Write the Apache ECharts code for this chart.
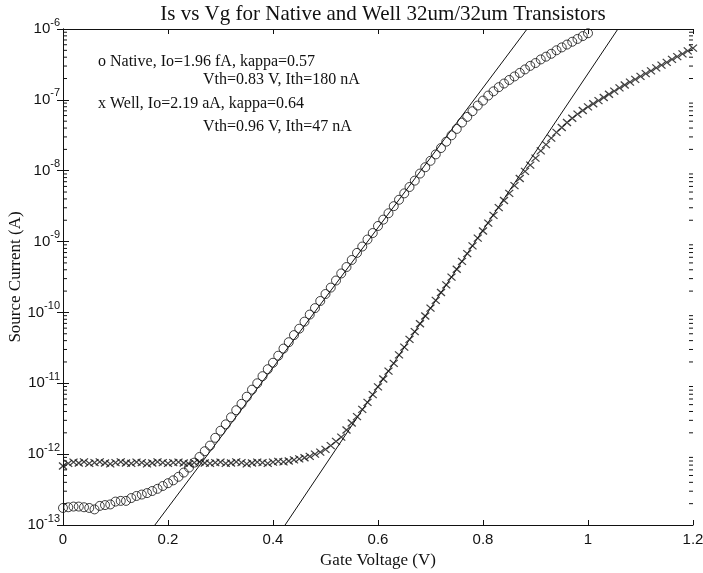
<!DOCTYPE html>
<html>
<head>
<meta charset="utf-8">
<title>Is vs Vg</title>
<script src="https://cdn.jsdelivr.net/npm/echarts@6/dist/echarts.min.js"></script>
<style>
  html, body { margin: 0; padding: 0; background: #ffffff; }
  #chart { width: 703px; height: 573px; }
</style>
</head>
<body>
<div id="chart"></div>
<script>
// gate voltage sweep (V)
var gateV = [
  0, 0.01, 0.02, 0.03, 0.04, 0.05, 0.06, 0.07, 0.08, 0.09,
  0.10, 0.11, 0.12, 0.13, 0.14, 0.15, 0.16, 0.17, 0.18, 0.19,
  0.20, 0.21, 0.22, 0.23, 0.24, 0.25, 0.26, 0.27, 0.28, 0.29,
  0.30, 0.31, 0.32, 0.33, 0.34, 0.35, 0.36, 0.37, 0.38, 0.39,
  0.40, 0.41, 0.42, 0.43, 0.44, 0.45, 0.46, 0.47, 0.48, 0.49,
  0.50, 0.51, 0.52, 0.53, 0.54, 0.55, 0.56, 0.57, 0.58, 0.59,
  0.60, 0.61, 0.62, 0.63, 0.64, 0.65, 0.66, 0.67, 0.68, 0.69,
  0.70, 0.71, 0.72, 0.73, 0.74, 0.75, 0.76, 0.77, 0.78, 0.79,
  0.80, 0.81, 0.82, 0.83, 0.84, 0.85, 0.86, 0.87, 0.88, 0.89,
  0.90, 0.91, 0.92, 0.93, 0.94, 0.95, 0.96, 0.97, 0.98, 0.99,
  1.00, 1.01, 1.02, 1.03, 1.04, 1.05, 1.06, 1.07, 1.08, 1.09,
  1.10, 1.11, 1.12, 1.13, 1.14, 1.15, 1.16, 1.17, 1.18, 1.19,
  1.20
];

// native transistor source current (A), 0 .. 1.0 V
var nativeI = [
  1.74e-13, 1.78e-13, 1.82e-13, 1.82e-13, 1.78e-13, 1.74e-13, 1.66e-13, 1.86e-13, 1.91e-13, 1.95e-13,
  2.14e-13, 2.19e-13, 2.19e-13, 2.40e-13, 2.57e-13, 2.69e-13, 2.82e-13, 3.02e-13, 3.24e-13, 3.55e-13,
  3.89e-13, 4.27e-13, 4.79e-13, 5.50e-13, 6.46e-13, 7.59e-13, 9.12e-13, 1.10e-12, 1.32e-12, 1.70e-12,
  2.14e-12, 2.63e-12, 3.31e-12, 4.17e-12, 5.13e-12, 6.46e-12, 8.13e-12, 1.00e-11, 1.26e-11, 1.58e-11,
  1.95e-11, 2.45e-11, 3.09e-11, 3.80e-11, 4.79e-11, 5.89e-11, 7.41e-11, 9.33e-11, 1.15e-10, 1.45e-10,
  1.82e-10, 2.24e-10, 2.82e-10, 3.55e-10, 4.37e-10, 5.50e-10, 6.92e-10, 8.51e-10, 1.07e-9, 1.32e-9,
  1.66e-9, 2.04e-9, 2.51e-9, 3.16e-9, 3.89e-9, 4.79e-9, 5.89e-9, 7.24e-9, 9.12e-9, 1.12e-8,
  1.38e-8, 1.70e-8, 2.09e-8, 2.57e-8, 3.16e-8, 3.89e-8, 4.79e-8, 5.75e-8, 6.92e-8, 8.32e-8,
  9.77e-8, 1.15e-7, 1.32e-7, 1.51e-7, 1.70e-7, 1.91e-7, 2.14e-7, 2.40e-7, 2.69e-7, 3.02e-7,
  3.31e-7, 3.72e-7, 4.07e-7, 4.47e-7, 5.01e-7, 5.50e-7, 6.03e-7, 6.61e-7, 7.24e-7, 7.94e-7,
  8.71e-7
];

// well transistor source current (A), 0 .. 1.2 V
var wellI = [
  6.8e-13, 7.4e-13, 7.7e-13, 7.5e-13, 7.8e-13, 7.4e-13, 7.6e-13, 7.8e-13, 7.5e-13, 7.3e-13,
  7.6e-13, 7.8e-13, 7.5e-13, 7.4e-13, 7.7e-13, 7.6e-13, 7.3e-13, 7.5e-13, 7.8e-13, 7.6e-13,
  7.4e-13, 7.6e-13, 7.7e-13, 7.5e-13, 7.3e-13, 7.6e-13, 7.8e-13, 7.5e-13, 7.4e-13, 7.6e-13,
  7.7e-13, 7.4e-13, 7.5e-13, 7.8e-13, 7.6e-13, 7.3e-13, 7.5e-13, 7.7e-13, 7.6e-13, 7.4e-13,
  7.7e-13, 7.9e-13, 7.8e-13, 8.0e-13, 8.3e-13, 8.6e-13, 8.9e-13, 9.3e-13, 1.00e-12, 1.07e-12,
  1.17e-12, 1.32e-12, 1.51e-12, 1.74e-12, 2.19e-12, 2.75e-12, 3.39e-12, 4.27e-12, 5.37e-12, 6.92e-12,
  8.91e-12, 1.15e-11, 1.48e-11, 1.91e-11, 2.51e-11, 3.24e-11, 4.17e-11, 5.37e-11, 6.92e-11, 8.91e-11,
  1.15e-10, 1.48e-10, 1.91e-10, 2.45e-10, 3.16e-10, 4.07e-10, 5.25e-10, 6.76e-10, 8.71e-10, 1.12e-9,
  1.41e-9, 1.82e-9, 2.34e-9, 3.02e-9, 3.80e-9, 4.79e-9, 6.17e-9, 7.76e-9, 9.77e-9, 1.20e-8,
  1.51e-8, 1.91e-8, 2.34e-8, 2.88e-8, 3.47e-8, 4.07e-8, 4.79e-8, 5.50e-8, 6.31e-8, 7.08e-8,
  7.94e-8, 8.81e-8, 9.77e-8, 1.08e-7, 1.20e-7, 1.33e-7, 1.48e-7, 1.62e-7, 1.78e-7, 1.95e-7,
  2.14e-7, 2.34e-7, 2.57e-7, 2.82e-7, 3.09e-7, 3.39e-7, 3.72e-7, 4.07e-7, 4.47e-7, 4.90e-7,
  5.37e-7
];

// exponential fit lines, end points where they leave the frame
var fitNativeV = [0.175, 0.884];
var fitNativeI = [1e-13, 1e-6];
var fitWellV = [0.423, 1.057];
var fitWellI = [1e-13, 1e-6];

var xMin = 0, xMax = 1.2;
var yMin = 1e-13, yMax = 1e-6;

var chart = echarts.init(document.getElementById('chart'));

function pairs(xs, ys) {
  var out = [];
  for (var i = 0; i < ys.length; i++) out.push([xs[i], ys[i]]);
  return out;
}

// minor ticks of the log axis (2..9 in every decade) on both frame sides
var minorTicks = [];
for (var e = -13; e < -6; e++) {
  for (var k = 2; k <= 9; k++) {
    minorTicks.push([xMin, k * Math.pow(10, e), 1]);
    minorTicks.push([xMax, k * Math.pow(10, e), -1]);
  }
}

var serif = '"Liberation Serif", "Times New Roman", serif';
var sans = '"Liberation Sans", Arial, sans-serif';
var ink = '#111';

function yLabel(v) {
  var p = Math.round(Math.log(v) / Math.LN10);
  return '{b|10}{s|' + p + '}';
}

var yLog = {
  type: 'log',
  logBase: 10,
  min: yMin,
  max: yMax,
  splitLine: { show: false },
  axisLine: { show: true, lineStyle: { color: ink, width: 1 } }
};

chart.setOption({
  animation: false,
  backgroundColor: '#fff',
  title: {
    text: 'Is vs Vg for Native and Well 32um/32um Transistors',
    left: 378,
    top: -1,
    textAlign: 'center',
    textStyle: { fontFamily: serif, fontSize: 21, fontWeight: 'normal', color: ink }
  },
  grid: { left: 63, right: 10, top: 29, bottom: 48, outerBoundsMode: 'none' },
  xAxis: [
    {
      type: 'value', min: xMin, max: xMax, interval: 0.2,
      name: 'Gate Voltage (V)', nameLocation: 'middle', nameGap: 25,
      nameTextStyle: { fontFamily: serif, fontSize: 17, color: ink },
      axisLine: { lineStyle: { color: ink } },
      axisTick: { inside: true, length: 5, lineStyle: { color: ink } },
      axisLabel: {
        fontFamily: sans, fontSize: 15, color: ink, margin: 7,
        formatter: function (v) { return String(Math.round(v * 10) / 10); }
      },
      splitLine: { show: false }
    },
    {
      type: 'value', position: 'top', min: xMin, max: xMax, interval: 0.2,
      axisLine: { lineStyle: { color: ink } },
      axisTick: { inside: true, length: 5, lineStyle: { color: ink } },
      axisLabel: { show: false },
      splitLine: { show: false }
    }
  ],
  yAxis: [
    Object.assign({}, yLog, {
      position: 'left',
      axisTick: { inside: true, length: 6, lineStyle: { color: ink } },
      axisLabel: {
        margin: 3,
        formatter: yLabel,
        rich: {
          b: { fontFamily: sans, fontSize: 15, color: ink },
          s: { fontFamily: sans, fontSize: 11, color: ink, padding: [0, 0, 13, 0] }
        }
      }
    }),
    Object.assign({}, yLog, {
      position: 'right',
      axisTick: { inside: true, length: 6, lineStyle: { color: ink } },
      axisLabel: { show: false }
    })
  ],
  graphic: [
    {
      type: 'text', x: 16, y: 277, rotation: Math.PI / 2,
      style: { text: 'Source Current (A)', font: '17px ' + serif, fill: ink, align: 'center', verticalAlign: 'middle' }
    },
    { type: 'text', left: 98, top: 54, style: { text: 'o Native, Io=1.96 fA, kappa=0.57', font: '16px ' + serif, fill: ink } },
    { type: 'text', left: 203, top: 72, style: { text: 'Vth=0.83 V, Ith=180 nA', font: '16px ' + serif, fill: ink } },
    { type: 'text', left: 98, top: 96, style: { text: 'x Well, Io=2.19 aA, kappa=0.64', font: '16px ' + serif, fill: ink } },
    { type: 'text', left: 203, top: 119, style: { text: 'Vth=0.96 V, Ith=47 nA', font: '16px ' + serif, fill: ink } }
  ],
  series: [
    {
      name: 'minor ticks', type: 'custom', xAxisIndex: 0, yAxisIndex: 0,
      data: minorTicks, silent: true, clip: false,
      renderItem: function (params, api) {
        var p = api.coord([api.value(0), api.value(1)]);
        var d = api.value(2);
        return {
          type: 'line',
          shape: { x1: p[0], y1: p[1], x2: p[0] + d * 4, y2: p[1] },
          style: { stroke: ink, lineWidth: 1 }
        };
      }
    },
    {
      name: 'Native fit', type: 'line', xAxisIndex: 0, yAxisIndex: 0,
      data: pairs(fitNativeV, fitNativeI), showSymbol: false, silent: true,
      lineStyle: { color: ink, width: 1 }
    },
    {
      name: 'Well fit', type: 'line', xAxisIndex: 0, yAxisIndex: 0,
      data: pairs(fitWellV, fitWellI), showSymbol: false, silent: true,
      lineStyle: { color: ink, width: 1 }
    },
    {
      name: 'Native', type: 'scatter', xAxisIndex: 0, yAxisIndex: 0,
      data: pairs(gateV, nativeI), symbol: 'circle', symbolSize: 9,
      itemStyle: { color: 'rgba(0,0,0,0)', borderColor: ink, borderWidth: 1 }
    },
    {
      name: 'Well', type: 'scatter', xAxisIndex: 0, yAxisIndex: 0,
      data: pairs(gateV, wellI), symbol: 'path://M0,0L10,10M10,0L0,10', symbolSize: [8, 7],
      itemStyle: { color: 'none', borderColor: ink, borderWidth: 1.2 }
    }
  ]
});
</script>
</body>
</html>
